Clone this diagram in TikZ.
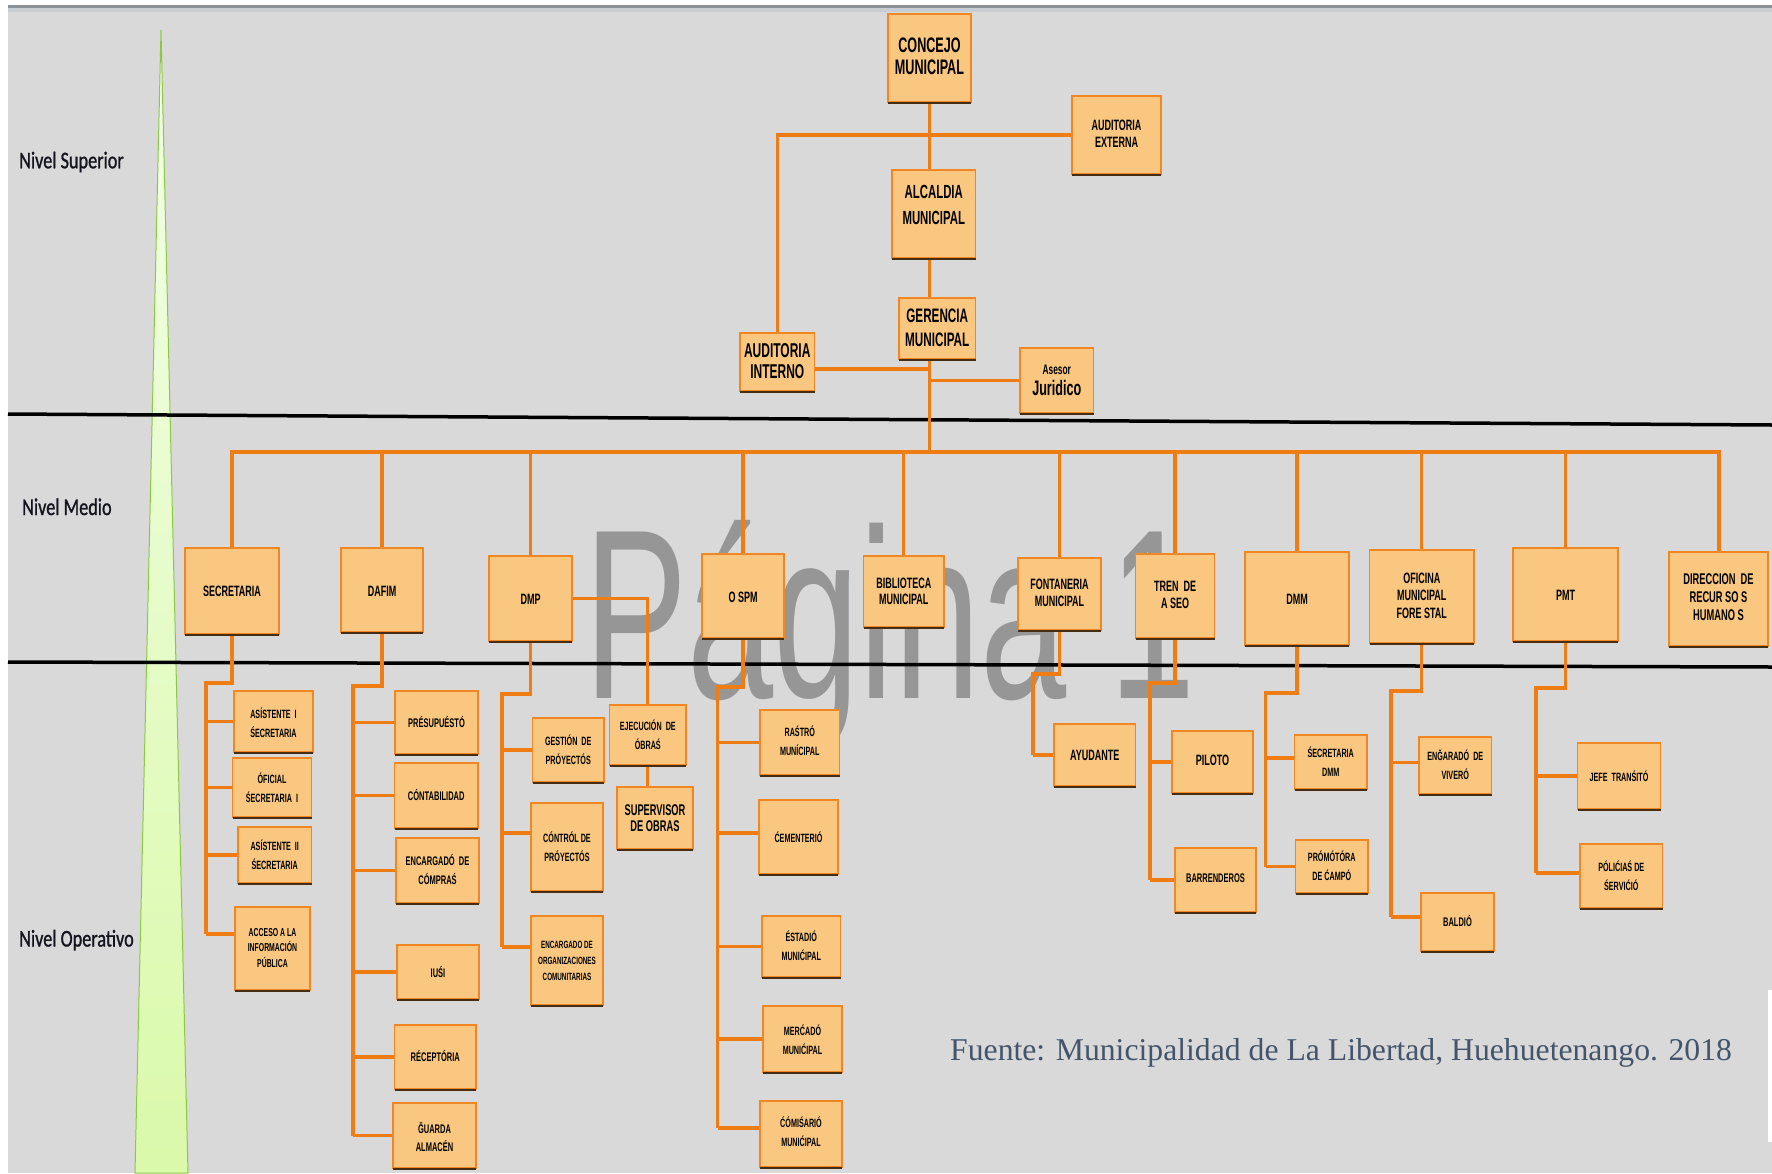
\documentclass[tikz,border=0pt]{standalone}
\usepackage{fontspec}
\setmainfont{Liberation Sans}
\newfontfamily\boxf[FakeStretch=0.6]{Liberation Sans}
\newfontfamily\lvlf[FakeStretch=0.76,FakeBold=1]{Carlito}
\newfontfamily\wmf[FakeStretch=0.64]{Liberation Sans}
\newfontfamily\ftf{Liberation Serif}
\usetikzlibrary{calc}
\pgfdeclarelayer{back}
\pgfdeclarelayer{connl}
\pgfsetlayers{back,connl,main}
\definecolor{bg}{RGB}{217,217,217}
\definecolor{topline}{RGB}{140,145,150}
\definecolor{topband}{RGB}{200,205,212}
\definecolor{boxfill}{RGB}{250,199,128}
\definecolor{boxedge}{RGB}{240,135,35}
\definecolor{conncol}{RGB}{240,125,20}
\definecolor{shadowcol}{RGB}{70,45,20}
\definecolor{wm}{RGB}{150,150,150}
\definecolor{pyrfill}{RGB}{218,249,170}
\definecolor{pyrtop}{RGB}{242,255,232}
\definecolor{pyredge}{RGB}{140,200,70}
\definecolor{foot}{RGB}{68,84,106}
\definecolor{lvl}{RGB}{20,20,30}
\tikzset{
  box/.style={draw=boxedge, fill=boxfill, line width=1.5pt, inner sep=0pt, outer sep=0pt},
  lbl/.style={align=center, inner sep=0pt, text=black},
  conn/.style={draw=conncol, line width=3.4pt},
  lvltext/.style={anchor=base west, inner sep=0pt, text=lvl, font=\lvlf\fontsize{24}{24}\selectfont}
}
\newcommand\bx[9]{%
  \node[box, minimum width={(#4-#2)*1pt}, minimum height={(#5-#3)*1pt}] (#1) at ({(#2+#4)/2},{(#3+#5)/2}) {};
  \draw[draw=shadowcol, line width=2pt] ($(#1.south west)+(0,1)$) -- ($(#1.south east)+(0,1)$);
  \node[lbl, font=\boxf\bfseries\fontsize{#7}{#8}\selectfont] (#1t) at ({(#2+#4)/2},#6) {#9};}
\newcommand\br[3]{%
  \coordinate (#1b) at ($(#1.west)+(0,#3)$);
  \draw[conn] (#1b) -- (#1b -| #2);}
\begin{document}
\begin{tikzpicture}[x=1pt,y=-1pt]
\useasboundingbox (0,0) rectangle (1772,1173);
\begin{pgfonlayer}{back}
\fill[white] (0,0) rectangle (1772,1173);
\fill[bg] (8,12) rectangle (1772,1173);
\fill[topline] (8,4.5) rectangle (1772,7.5);
\fill[topband] (8,7.5) rectangle (1772,12);
\fill[white] (1768,990) rectangle (1772,1142);
\node[anchor=base west, inner sep=0pt, text=wm, font=\wmf\fontsize{242}{242}\selectfont] (wmark) at (584,698) {Página 1};
\shadedraw[top color=pyrtop, bottom color=pyrfill, draw=pyredge, line width=1pt] (161,30) -- (188,1173) -- (135,1173) -- cycle;
\draw[black, line width=3.5pt] (8,414) -- (1772,425);
\draw[black, line width=3.5pt] (8,662) -- (1772,667);
\node[lvltext] (lsup) at (19,168.3) {Nivel Superior};
\node[lvltext] (lmed) at (22,515) {Nivel Medio};
\node[lvltext] (lope) at (19,946.5) {Nivel Operativo};
\node[anchor=base west, inner sep=0pt, text=foot, font=\ftf\fontsize{31.7}{31.7}\selectfont] (src) at (950,1060) {Fuente: Municipalidad de La Libertad, Huehuetenango. 2018};
\end{pgfonlayer}

% top level
\bx{concejo}{888}{14}{971}{102}{56.5}{21}{22}{CONCEJO\\MUNICIPAL}
\bx{audext}{1072}{96}{1161}{174}{134}{15}{16.5}{AUDITORIA\\EXTERNA}
\bx{alcaldia}{892}{170}{975.5}{258}{204.5}{19}{26}{ALCALDIA\\MUNICIPAL}
\bx{gerencia}{899}{298}{975.5}{359}{328}{19.5}{24.5}{GERENCIA\\MUNICIPAL}
\bx{audint}{740}{333}{814.5}{391}{361}{20}{21.5}{AUDITORIA\\INTERNO}
\bx{asesor}{1020}{348}{1093.5}{413}{370}{14}{15}{Asesor}
\node[lbl, font=\boxf\bfseries\fontsize{21}{21}\selectfont] (asesort2) at (1056.75,388) {Juridico};

% middle level
\bx{sec}{185}{548}{279}{634}{591}{15}{17}{SECRETARIA}
\bx{dafim}{341}{548}{423}{632}{591}{15}{17}{DAFIM}
\bx{dmp}{489}{556}{572}{641}{599}{15}{17}{DMP}
\bx{ospm}{702}{554}{784}{638}{597}{15}{17}{O SPM}
\bx{bib}{863.5}{556}{944}{627}{591}{15}{16}{BIBLIOTECA\\MUNICIPAL}
\bx{fontan}{1018}{558}{1101}{630}{592.5}{15}{17}{FONTANERIA\\MUNICIPAL}
\bx{tren}{1135.5}{554}{1214.5}{638}{594.5}{15}{17}{TREN~~DE\\A SEO}
\bx{dmm}{1245}{552}{1349}{645}{599}{15}{17}{DMM}
\bx{omf}{1369.5}{550}{1474}{643}{595.5}{15}{17.5}{OFICINA\\MUNICIPAL\\FORE STAL}
\bx{pmt}{1513}{548}{1618}{641}{595}{15}{17}{PMT}
\bx{rrhh}{1669}{552}{1768}{646}{597.5}{15.5}{18}{DIRECCION~~DE\\RECUR SO S\\HUMANO S}

% operative level
\bx{asa}{234}{691}{313}{752}{722.5}{12}{19}{ASÍSTENTE~~I\\ŚECRETARIA}
\bx{ofi}{232.5}{758}{311.5}{817}{787.5}{12}{19}{ÓFICIAL\\ŚECRETARIA~~I}
\bx{asb}{238}{827}{311.5}{883}{855}{12}{18.6}{ASÍSTENTE~~II\\ŚECRETARIA}
\bx{acc}{235}{907}{310}{990}{948}{11.5}{15.5}{ACCESO A LA\\INFORMACIÓN\\PÚBLICA}
\bx{pres}{395}{691}{478}{754}{722}{12.5}{15}{PRÉSUPUÉSTÓ}
\bx{cont}{394.5}{763}{478}{828}{795}{12.5}{15}{CÓNTABILIDAD}
\bx{enc}{396}{838}{479}{903}{869.5}{12.5}{19}{ENCARGADÓ~~DE\\CÓMPRAŚ}
\bx{iusi}{397}{945}{479}{999}{972}{12.5}{15}{IUŚI}
\bx{recep}{394.5}{1025}{476}{1089}{1056}{12.5}{15}{RÉCEPTÓRIA}
\bx{guarda}{393}{1103}{476}{1168}{1137}{12.5}{18}{ĞUARDA\\ALMACÉN}
\bx{gest}{532.5}{718}{604}{782}{750}{12}{18.6}{GESTIÓN~~DE\\PRÓYECTÓS}
\bx{ctrl}{531}{803}{603}{891}{846.5}{12}{19}{CÓNTRÓL DE\\PRÓYECTÓS}
\bx{org}{531}{916}{603}{1005}{960.5}{10.5}{16}{ENCARGADO DE\\ORGANIZACIONES\\COMUNITARIAS}
\bx{ejec}{609.5}{705}{686}{765}{734.5}{12}{19}{EJECUCIÓN~~DE\\ÓBRAŚ}
\bx{sup}{617}{787}{693}{849}{818}{15.5}{16}{SUPERVISOR\\DE OBRAS}
\bx{rastro}{760}{710}{839.5}{775}{741}{12}{19}{RAŚTRÓ\\MUNÍCIPAL}
\bx{cem}{759}{800}{838}{874}{837}{12}{15}{ĆEMENTERIÓ}
\bx{est}{762}{916}{840.5}{977}{945.5}{12}{19}{ÉSTADIÓ\\MUNIĆIPAL}
\bx{merc}{763}{1006}{842}{1072}{1039.5}{12}{19}{MERĆADÓ\\MUNIĆIPAL}
\bx{comis}{760}{1101}{842}{1167}{1132}{12}{19}{ĆÓMIŚARIÓ\\MUNIĆIPAL}
\bx{ayud}{1054}{724}{1135.5}{786}{755}{15}{17}{AYUDANTE}
\bx{piloto}{1172}{731}{1253}{793}{760}{15}{17}{PILOTO}
\bx{barr}{1175}{848}{1256}{912}{878}{12.5}{15}{BARRENDEROS}
\bx{sdmm}{1294.5}{735}{1367}{789}{762}{12}{19}{ŚECRETARIA\\DMM}
\bx{prom}{1295.5}{840}{1368}{893}{865.5}{12}{19}{PRÓMÓTÓRA\\DE ĆAMPÓ}
\bx{eng}{1419}{737}{1491.5}{794}{764.5}{12}{19}{ENĞARADÓ~~DE\\VIVERÓ}
\bx{bald}{1421}{893}{1494}{951}{921}{12.5}{15}{BALDIÓ}
\bx{jefe}{1577.5}{743}{1660.5}{809}{776}{12}{15}{JEFE~~TRANŚITÓ}
\bx{pol}{1580}{844}{1662.5}{908}{876}{12}{19}{PÓLIĆIAŚ DE\\ŚERVIĆIÓ}

\begin{pgfonlayer}{connl}
\coordinate (busc) at (929.5,452);
\draw[conn] (concejo.south) -- (concejo.south |- busc);
\draw[conn] (audint.north) |- (audext.west);
\coordinate (aie) at ($(audint.east)+(0,7)$);
\draw[conn] (aie) -- (aie -| busc);
\draw[conn] (asesor.west) -- (asesor.west -| busc);
\draw[conn, line width=4pt] (sec.north) |- (busc) -| (rrhh.north);
\foreach \nm in {dafim,dmp,ospm,bib,fontan,tren,dmm,omf,pmt}
  \draw[conn] (\nm.north) -- (\nm.north |- busc);
\draw[conn] (dmp.east) -| (ejec.north);
\draw[conn] (ejec.south) -- (ejec.south |- sup.north);
% secretaria
\coordinate (secE) at (206,683);
\br{asa}{secE}{0} \br{ofi}{secE}{0} \br{asb}{secE}{0} \br{acc}{secE}{-14.5}
\draw[conn] (sec.south) |- (secE) -- (secE |- accb);
% dafim
\coordinate (dafE) at (353,686);
\br{pres}{dafE}{0} \br{cont}{dafE}{0} \br{enc}{dafE}{0} \br{iusi}{dafE}{0} \br{recep}{dafE}{0} \br{guarda}{dafE}{0}
\draw[conn] (dafim.south) |- (dafE) -- (dafE |- guardab);
% dmp
\coordinate (dmpE) at (502,694);
\br{gest}{dmpE}{0} \br{ctrl}{dmpE}{-14} \br{org}{dmpE}{-13.5}
\draw[conn] (dmp.south) |- (dmpE) -- (dmpE |- orgb);
% ospm
\coordinate (ospmE) at (717.5,687);
\br{rastro}{ospmE}{0} \br{cem}{ospmE}{-4} \br{est}{ospmE}{0} \br{merc}{ospmE}{0} \br{comis}{ospmE}{-6}
\draw[conn] (ospm.south) |- (ospmE) -- (ospmE |- comisb);
% fontaneria
\coordinate (fontE) at (1033,674);
\br{ayud}{fontE}{0}
\draw[conn] (fontan.south) |- (fontE) -- (fontE |- ayudb);
% tren de aseo
\coordinate (trenE) at (1150,683);
\br{piloto}{trenE}{0} \br{barr}{trenE}{0}
\draw[conn] (tren.south) |- (trenE) -- (trenE |- barrb);
% dmm
\coordinate (dmmE) at (1265.5,693);
\br{sdmm}{dmmE}{-4} \br{prom}{dmmE}{0}
\draw[conn] (dmm.south) |- (dmmE) -- (dmmE |- promb);
% oficina forestal
\coordinate (omfE) at (1391,691);
\br{eng}{omfE}{-3} \br{bald}{omfE}{-5}
\draw[conn] (omf.south) |- (omfE) -- (omfE |- baldb);
% pmt
\coordinate (pmtE) at (1536,688);
\br{jefe}{pmtE}{0} \br{pol}{pmtE}{-3}
\draw[conn] (pmt.south) |- (pmtE) -- (pmtE |- polb);
\end{pgfonlayer}
\end{tikzpicture}
\end{document}
